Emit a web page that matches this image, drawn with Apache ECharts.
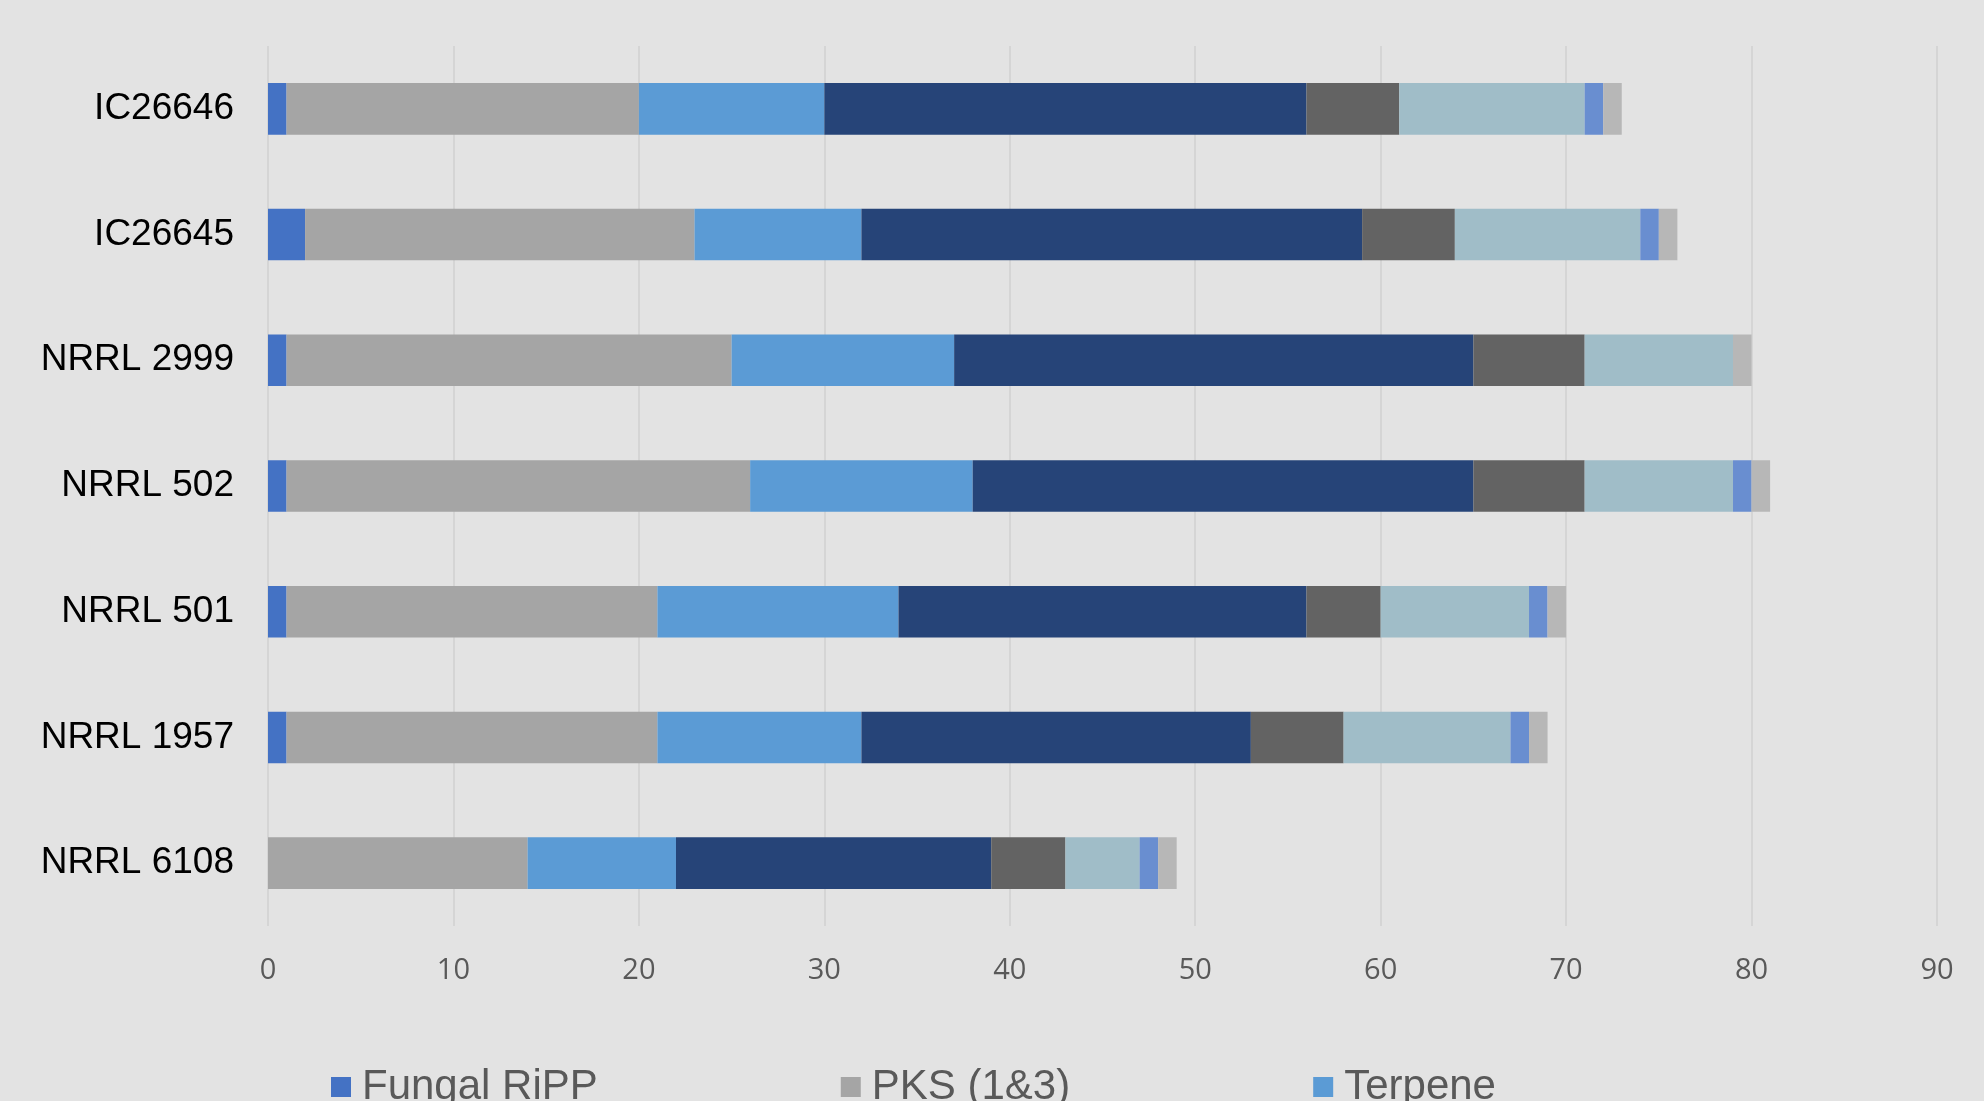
<!DOCTYPE html>
<html>
<head>
<meta charset="utf-8">
<title>BGC counts per strain</title>
<script src="https://cdn.jsdelivr.net/npm/echarts@6/dist/echarts.min.js"></script>
<style>
  html, body { margin: 0; padding: 0; background: #e3e3e3; }
  #chart { width: 1984px; height: 1101px; }
</style>
</head>
<body>
<div id="chart"></div>
<script>
// Strains, listed top to bottom
const strains = ['IC26646', 'IC26645', 'NRRL 2999', 'NRRL 502', 'NRRL 501', 'NRRL 1957', 'NRRL 6108'];

// Cluster counts per class, same order as strains
const fungalRipp = [1, 2, 1, 1, 1, 1, 0];
const pks13      = [19, 21, 24, 25, 20, 20, 14];
const terpene    = [10, 9, 12, 12, 13, 11, 8];
const nrps       = [26, 27, 28, 27, 22, 21, 17];
const nrpsLike   = [5, 5, 6, 6, 4, 5, 4];
const other      = [10, 10, 8, 8, 8, 9, 4];
const indole     = [1, 1, 0, 1, 1, 1, 1];
const hybrid     = [1, 1, 1, 1, 1, 1, 1];

const xTicks = { min: 0, max: 90, interval: 10 };

const seriesDefs = [
  { name: 'Fungal RiPP', data: fungalRipp, color: '#4472c4' },
  { name: 'PKS (1&3)',   data: pks13,      color: '#a5a5a5' },
  { name: 'Terpene',     data: terpene,    color: '#5b9bd5' },
  { name: 'NRPS',        data: nrps,       color: '#264478' },
  { name: 'NRPS-like',   data: nrpsLike,   color: '#636363' },
  { name: 'Other',       data: other,      color: '#a0bdc8' },
  { name: 'Indole',      data: indole,     color: '#698ed0' },
  { name: 'Hybrid',      data: hybrid,     color: '#b7b7b7' }
];

const chart = echarts.init(document.getElementById('chart'), null, { renderer: 'canvas' });

chart.setOption({
  backgroundColor: '#e3e3e3',
  animation: false,
  grid: { left: 268, right: 47, top: 46, bottom: 175, containLabel: false },
  legend: {
    left: 326,
    top: 1061,
    width: 1250,
    itemWidth: 20,
    itemHeight: 20,
    itemGap: 243,
    icon: 'rect',
    textStyle: {
      fontFamily: 'Liberation Sans, Arial, sans-serif',
      fontSize: 42,
      lineHeight: 42,
      color: '#595959',
      padding: [0, 0, 0, 6]
    },
    data: seriesDefs.map(s => s.name)
  },
  xAxis: {
    type: 'value',
    min: xTicks.min,
    max: xTicks.max,
    interval: xTicks.interval,
    axisLine: { show: false },
    axisTick: { show: false },
    splitLine: { show: true, lineStyle: { color: '#d5d5d5', width: 2 } },
    axisLabel: {
      fontFamily: 'Open Sans, sans-serif',
      fontSize: 29,
      color: '#595959',
      margin: 30
    }
  },
  yAxis: {
    type: 'category',
    inverse: true,
    data: strains,
    axisLine: { show: false },
    axisTick: { show: false },
    splitLine: { show: false },
    axisLabel: {
      fontFamily: 'Liberation Sans, Arial, sans-serif',
      fontSize: 37,
      color: '#000000',
      margin: 34,
      padding: [4, 0, 0, 0]
    }
  },
  series: seriesDefs.map(s => ({
    name: s.name,
    type: 'bar',
    stack: 'total',
    barCategoryGap: '59%',
    itemStyle: { color: s.color },
    data: s.data
  }))
});
</script>
</body>
</html>
